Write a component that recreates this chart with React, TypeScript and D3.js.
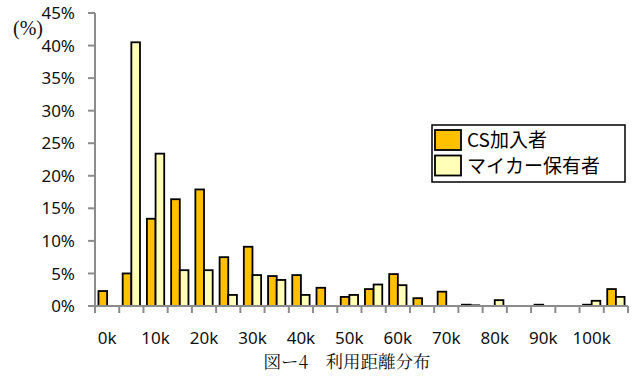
import React from "react";
import * as d3 from "d3";

// Distance bins (5 km steps) and share of users per bin (%)
const categories = [
  "0k", "5k", "10k", "15k", "20k", "25k", "30k", "35k", "40k", "45k", "50k",
  "55k", "60k", "65k", "70k", "75k", "80k", "85k", "90k", "95k", "100k", "105k",
];
const tickLabels = ["0k", "10k", "20k", "30k", "40k", "50k", "60k", "70k", "80k", "90k", "100k"];
const csMembers = [
  2.3, 5.0, 13.4, 16.4, 17.9, 7.5, 9.1, 4.6, 4.75, 2.8, 1.4,
  2.6, 4.9, 1.2, 2.2, 0.2, 0, 0, 0.2, 0, 0.2, 2.6,
];
const carOwners = [
  0, 40.5, 23.4, 5.5, 5.5, 1.7, 4.75, 4.0, 1.7, 0, 1.7,
  3.3, 3.2, 0, 0, 0.1, 0.9, 0, 0, 0, 0.8, 1.4,
];
const yTicks = [0, 5, 10, 15, 20, 25, 30, 35, 40, 45];
const seriesNames = ["CS加入者", "マイカー保有者"];
const seriesColors = ["#FFC000", "#FFFFB8"];

const W = 635;
const H = 377;
const plot = { left: 95, right: 628, top: 13, bottom: 306 };
const axisColor = "#8c8c8c";
const tickFont = "'Noto Sans', 'DejaVu Sans', sans-serif";
const cjkFont = "'Noto Sans CJK JP', 'Noto Sans', sans-serif";

export default function App() {
  const x = d3
    .scaleBand<string>()
    .domain(categories)
    .range([plot.left, plot.right])
    .paddingInner(0)
    .paddingOuter(0);
  const inner = d3
    .scaleBand<number>()
    .domain([0, 1])
    .range([0, x.bandwidth()])
    .paddingOuter(0.4)
    .paddingInner(0);
  const y = d3.scaleLinear().domain([0, 45]).range([plot.bottom, plot.top]);
  const series = [csMembers, carOwners];

  return (
    <svg
      width={W}
      height={H}
      style={{ position: "absolute", left: 0, top: 0, background: "#fff" }}
    >
      {/* bars */}
      {series.map((vals, si) =>
        vals.map((v, i) =>
          v > 0 ? (
            <rect
              key={`${si}-${i}`}
              x={(x(categories[i]) as number) + (inner(si) as number)}
              y={y(v)}
              width={inner.bandwidth()}
              height={plot.bottom - y(v)}
              fill={seriesColors[si]}
              stroke="#000"
              strokeWidth={1.8}
            />
          ) : null
        )
      )}

      {/* y axis */}
      <line x1={plot.left} x2={plot.left} y1={plot.top} y2={plot.bottom + 7} stroke={axisColor} strokeWidth={2} />
      {yTicks.map((t) => (
        <g key={t}>
          <line x1={plot.left - 7} x2={plot.left} y1={y(t)} y2={y(t)} stroke={axisColor} strokeWidth={2} />
          <text
            x={75}
            y={y(t)}
            dy="0.36em"
            textAnchor="end"
            fontFamily={tickFont}
            fontSize={17}
            fill="#111"
          >
            {t}%
          </text>
        </g>
      ))}
      <text x={28} y={35} textAnchor="middle" fontFamily="'Liberation Serif', serif" fontSize={20} fill="#111">
        (%)
      </text>

      {/* x axis */}
      <line x1={plot.left} x2={plot.right} y1={plot.bottom} y2={plot.bottom} stroke={axisColor} strokeWidth={2} />
      {categories.map((c) => (
        <line
          key={c}
          x1={(x(c) as number) + x.bandwidth()}
          x2={(x(c) as number) + x.bandwidth()}
          y1={plot.bottom}
          y2={plot.bottom + 7}
          stroke={axisColor}
          strokeWidth={2}
        />
      ))}
      {tickLabels.map((c) => (
        <text
          key={c}
          x={(x(c) as number) + x.bandwidth() / 2}
          y={344}
          textAnchor="middle"
          fontFamily={tickFont}
          fontSize={17}
          fill="#111"
        >
          {c}
        </text>
      ))}

      {/* legend */}
      <rect x={432} y={125} width={193} height={57} fill="#fff" stroke="#000" strokeWidth={1.5} />
      {seriesNames.map((n, i) => (
        <g key={n}>
          <rect x={435} y={130 + i * 25.5} width={26} height={20} fill={seriesColors[i]} stroke="#000" strokeWidth={1.8} />
          <text x={467} y={147 + i * 25.5} fontFamily={cjkFont} fontSize={19} fill="#000">
            {n}
          </text>
        </g>
      ))}

      {/* caption */}
      <text
        x={347}
        y={368}
        textAnchor="middle"
        fontFamily="'Noto Serif CJK JP', 'Noto Sans CJK JP', serif"
        fontSize={17.5}
        fill="#111"
      >
        図ー4　利用距離分布
      </text>
    </svg>
  );
}
